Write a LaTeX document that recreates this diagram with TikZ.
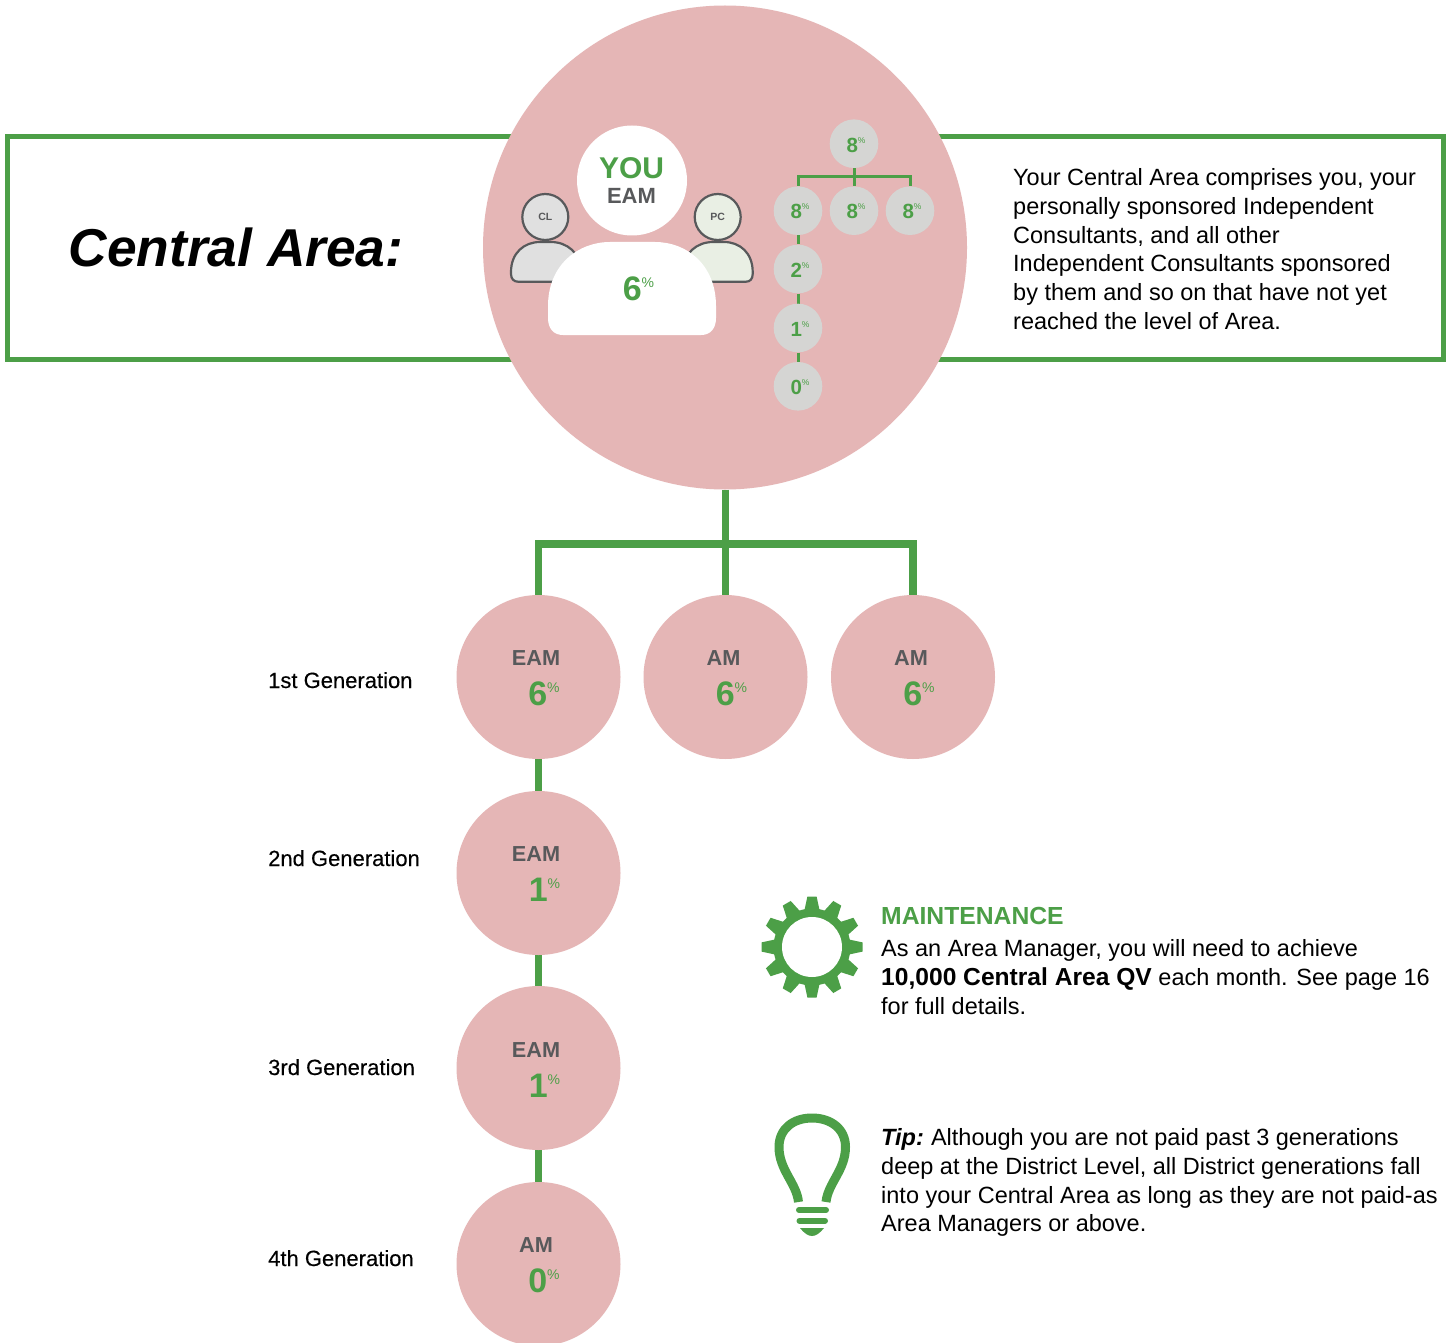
\documentclass[tikz,border=0pt]{standalone}
\usepackage{fontspec}
\setmainfont{Liberation Sans}
\newfontfamily\medfont[FakeBold=0.25]{Liberation Sans}
\definecolor{pinkc}{HTML}{E5B6B6}
\definecolor{greenc}{HTML}{4C9F47}
\definecolor{greyc}{HTML}{58595B}
\definecolor{smallc}{HTML}{D5D5D3}
\definecolor{clc}{HTML}{E0E0E0}
\definecolor{pcc}{HTML}{E9EFE4}
\pgfdeclarelayer{base}
\pgfdeclarelayer{thicklinks}
\pgfdeclarelayer{disc}
\pgfdeclarelayer{thinlinks}
\pgfsetlayers{base,thicklinks,disc,thinlinks,main}
\newcommand{\fs}[1]{\fontsize{#1}{#1}\selectfont}
\newcommand{\bigpct}[1]{{\fs{34}\bfseries\textcolor{greenc}{#1}}\raisebox{13pt}{\fs{14}\textcolor{greenc}{\%}}}
\newcommand{\smallpct}[1]{{\fs{20.5}\bfseries\textcolor{greenc}{#1}}\raisebox{9pt}{\fs{8.5}\textcolor{greenc}{\%}}}
\tikzset{
  x=1pt,y=-1pt,
  big/.style={circle,fill=pinkc,minimum size=164pt,inner sep=0pt},
  small/.style={circle,fill=smallc,minimum size=48.6pt,inner sep=0pt},
  smalltext/.style={inner sep=0pt},
  thick link/.style={draw=greenc,line width=7.6pt},
  thin link/.style={draw=greenc,line width=3pt},
  head/.style={circle,draw=greyc,line width=2.2pt,minimum size=46pt,inner sep=0pt,font=\fs{10.5}\bfseries,text=greyc},
  person/.style={draw=greyc,line width=2.2pt},
  bodytext/.style={anchor=north west,inner sep=0pt,align=left,font=\fontsize{23.5}{28.9}\selectfont},
  gen/.style={anchor=base west,inner sep=0pt,font=\fs{22}\medfont},
  emtext/.style={text=greyc,font=\fs{21.7}\bfseries},
}
\begin{document}
\begin{tikzpicture}
\useasboundingbox (0,0) rectangle (1449,1343);
\clip (0,0) rectangle (1449,1343);
\begin{pgfonlayer}{base}
\fill[white] (0,0) rectangle (1449,1343);
\draw[greenc,line width=5pt] (7,136.5) rectangle (1443,359);
\end{pgfonlayer}
\node[anchor=base west,inner sep=0pt,font=\fs{53.3}\bfseries\itshape] (title) at (68.5,266) {Central Area:};
\node[bodytext] (desc) at (1013,168) {Your Central Area comprises you, your\\personally sponsored Independent\\Consultants, and all other\\Independent Consultants sponsored\\by them and so on that have not yet\\reached the level of Area.};
% discs
\begin{pgfonlayer}{disc}
\node[circle,fill=pinkc,minimum size=484pt,inner sep=0pt] (main) at (725,247.5) {};
\end{pgfonlayer}
\node[big] (g1a) at (538.5,677) {};
\node[big] (g1b) at (725.5,677) {};
\node[big] (g1c) at (913,677) {};
\node[big] (g2) at (538.5,873) {};
\node[big] (g3) at (538.5,1068) {};
\node[big] (g4) at (538.5,1264) {};
% thick connectors
\coordinate (junction) at (725.5,543.7);
\begin{pgfonlayer}{thicklinks}
\draw[thick link] (main.south -| junction) -- (junction);
\draw[thick link] (g1a.north) |- (junction);
\draw[thick link] (g1c.north) |- (junction);
\draw[thick link] (junction) -- (g1b.north);
\draw[thick link] (g1a.south) -- (g2.north);
\draw[thick link] (g2.south) -- (g3.north);
\draw[thick link] (g3.south) -- (g4.north);
\end{pgfonlayer}
% labels in big circles
\node[emtext] (t1a) at (536,658) {EAM};
\node[inner sep=0pt] (p1a) at (544,693.5) {\bigpct{6}};
\node[emtext] (t1b) at (723.5,658) {AM};
\node[inner sep=0pt] (p1b) at (731.5,693.5) {\bigpct{6}};
\node[emtext] (t1c) at (911,658) {AM};
\node[inner sep=0pt] (p1c) at (919,693.5) {\bigpct{6}};
\node[emtext] (t2) at (536,854) {EAM};
\node[inner sep=0pt] (p2) at (544.5,889.5) {\bigpct{1}};
\node[emtext] (t3) at (536,1050) {EAM};
\node[inner sep=0pt] (p3) at (544.5,1085.5) {\bigpct{1}};
\node[emtext] (t4) at (536,1245) {AM};
\node[inner sep=0pt] (p4) at (544,1280.5) {\bigpct{0}};
% generations
\node[gen] (l1) at (268,688) {1st Generation};
\node[gen] (l2) at (268,866) {2nd Generation};
\node[gen] (l3) at (268,1075) {3rd Generation};
\node[gen] (l4) at (268,1266) {4th Generation};
% CL person
\path[person,fill=clc] (511,272) .. controls (511,253) and (524,242) .. (540,242) -- (551,242) .. controls (567,242) and (581,253) .. (581,272) -- (581,274) .. controls (581,279) and (578,281.7) .. (574,281.7) -- (518,281.7) .. controls (514,281.7) and (511,279) .. (511,274) -- cycle;
\node[head,fill=clc] (cl) at (545.3,217) {CL};
% PC person
\path[person,fill=pcc] (683,272) .. controls (683,253) and (697,242) .. (713,242) -- (724,242) .. controls (740,242) and (752.7,253) .. (752.7,272) -- (752.7,274) .. controls (752.7,279) and (750,281.7) .. (746,281.7) -- (690,281.7) .. controls (686,281.7) and (683,279) .. (683,274) -- cycle;
\node[head,fill=pcc] (pc) at (717.7,217) {PC};
% you
\node[circle,fill=white,minimum size=110pt,inner sep=0pt] (you) at (632,180.5) {};
\fill[white] (548,318) .. controls (548,329) and (554,335) .. (563,335) -- (701,335) .. controls (710,335) and (716,329) .. (716,318) -- (716,306) .. controls (716,265) and (687,242) .. (655,242) -- (610,242) .. controls (578,242) and (548,265) .. (548,306) -- cycle;
\node[inner sep=0pt,font=\fs{30}\bfseries,text=greenc] (youtxt) at (631.5,168) {YOU};
\node[inner sep=0pt,font=\fs{22}\bfseries,text=greyc] (eamtxt) at (631.5,196) {EAM};
\node[inner sep=0pt] (youp) at (638.5,289) {{\fs{34}\bfseries\textcolor{greenc}{6}}\raisebox{13pt}{\fs{14}\textcolor{greenc}{\%}}};
% small tree
\node[small] (s0) at (854,143.7) {};
\node[small] (s1) at (798,210.7) {};
\node[small] (s2) at (854,210.7) {};
\node[small] (s3) at (910,210.7) {};
\node[small] (s4) at (798,269) {};
\node[small] (s5) at (798,328) {};
\node[small] (s6) at (798,386.3) {};
\coordinate (tj) at (854,177);
\begin{pgfonlayer}{thinlinks}
\draw[thin link] (s0.south) -- (tj);
\draw[thin link] (s1.north) |- (tj);
\draw[thin link] (s3.north) |- (tj);
\draw[thin link] (tj) -- (s2.north);
\draw[thin link] (s1.south) -- (s4.north);
\draw[thin link] (s4.south) -- (s5.north);
\draw[thin link] (s5.south) -- (s6.north);
\end{pgfonlayer}
\node[smalltext] (n0) at (856,145) {\smallpct{8}};
\node[smalltext] (n1) at (800,211.5) {\smallpct{8}};
\node[smalltext] (n2) at (856,211.5) {\smallpct{8}};
\node[smalltext] (n3) at (912,211.5) {\smallpct{8}};
\node[smalltext] (n4) at (800,270) {\smallpct{2}};
\node[smalltext] (n5) at (800,329) {\smallpct{1}};
\node[smalltext] (n6) at (800,387) {\smallpct{0}};
% gear
\begin{scope}[shift={(812,947)}]
\fill[greenc] (0,0) circle (38.5);
\foreach \a in {0,30,...,330}{
  \fill[greenc,rotate=\a] (-7.5,-37) -- (-4.6,-50.5) -- (4.6,-50.5) -- (7.5,-37) -- cycle;
}
\fill[white] (0,0) circle (30);
\end{scope}
% bulb
\draw[greenc,line width=9pt] (798.5,1202) .. controls (796.5,1183) and (779,1170) .. (779,1147) .. controls (779,1129) and (793,1118) .. (812,1118) .. controls (831,1118) and (845.5,1129) .. (845.5,1147) .. controls (845.5,1170) and (828,1183) .. (826,1202);
\draw[greenc,line width=6pt,line cap=round] (799,1210) -- (826,1210);
\draw[greenc,line width=6pt,line cap=round] (799.5,1220.7) -- (825,1220.7);
\fill[greenc] (800,1228) -- (824,1228) .. controls (820,1233) and (816,1236) .. (812,1236) .. controls (808,1236) and (804,1233) .. (800,1228) -- cycle;
% texts
\node[anchor=base west,inner sep=0pt,font=\fs{24.7}\bfseries,text=greenc] (mt) at (881,924.5) {MAINTENANCE};
\node[bodytext] (mb) at (881,939) {As an Area Manager, you will need to achieve\\{\fontsize{24.6}{28.9}\selectfont\bfseries 10,000 Central Area QV} each month. See page 16\\for full details.};
\node[bodytext] (tip) at (881,1128) {\textbf{\textit{Tip:}}\hspace{-1.5pt} Although you are not paid past 3 generations\\deep at the District Level, all District generations fall\\into your Central Area as long as they are not paid-as\\Area Managers or above.};
\end{tikzpicture}
\end{document}
